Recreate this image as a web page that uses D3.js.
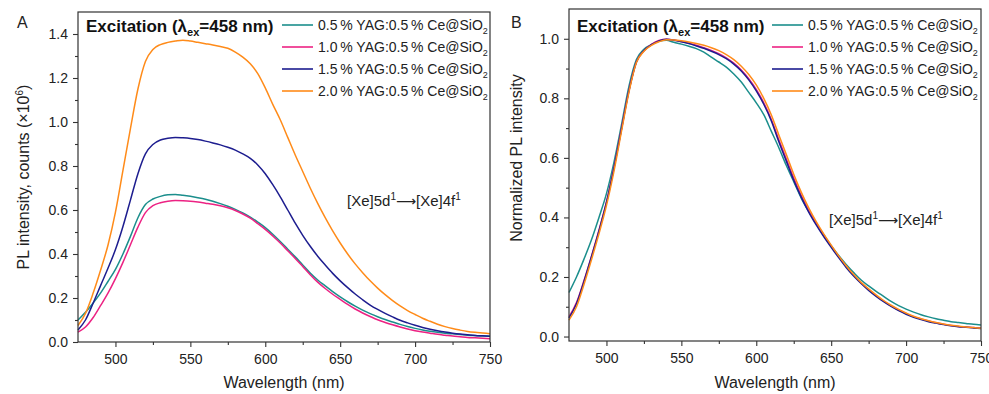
<!DOCTYPE html>
<html>
<head>
<meta charset="utf-8">
<script src="https://cdn.jsdelivr.net/npm/d3@7"></script>
<style>
  html, body { margin: 0; padding: 0; background: #fff; }
  svg { display: block; font-family: "Liberation Sans", Arial, sans-serif; }
</style>
</head>
<body>
<div id="chart"></div>
<script>
// wavelength grid (nm)
const wavelength = [475, 480, 485, 490, 495, 500, 505, 510, 515, 520, 525, 530, 535, 540, 545, 550,
  555, 560, 565, 570, 575, 580, 585, 590, 595, 600, 605, 610, 615, 620, 625, 630, 635, 640, 645, 650,
  655, 660, 665, 670, 675, 680, 685, 690, 695, 700, 705, 710, 715, 720, 725, 730, 735, 740, 745, 750];

const seriesLabels = ['0.5', '1.0', '1.5', '2.0'];
const seriesColors = ['#1b8e8c', '#ec2283', '#1d1d8f', '#ff8b19'];

// panel A: PL intensity, counts (x10^6)
const rawTeal = [0.10, 0.135, 0.176, 0.222, 0.275, 0.33, 0.40, 0.48, 0.565, 0.625, 0.65, 0.662, 0.669, 0.671, 0.667, 0.662,
  0.656, 0.649, 0.64, 0.629, 0.617, 0.603, 0.587, 0.568, 0.545, 0.52, 0.49, 0.457, 0.422, 0.387, 0.35, 0.314, 0.282, 0.255, 0.229, 0.205,
  0.183, 0.163, 0.145, 0.129, 0.115, 0.102, 0.091, 0.08, 0.07, 0.062, 0.055, 0.049, 0.044, 0.04, 0.037, 0.034, 0.031, 0.029, 0.027, 0.026];
const rawPink = [0.045, 0.068, 0.11, 0.165, 0.222, 0.288, 0.362, 0.442, 0.522, 0.588, 0.62, 0.633, 0.64, 0.643, 0.642, 0.64,
  0.636, 0.631, 0.626, 0.619, 0.61, 0.598, 0.582, 0.563, 0.538, 0.512, 0.482, 0.45, 0.415, 0.38, 0.343, 0.306, 0.272, 0.243, 0.217, 0.194,
  0.171, 0.15, 0.132, 0.116, 0.101, 0.089, 0.078, 0.068, 0.059, 0.051, 0.045, 0.04, 0.035, 0.031, 0.027, 0.024, 0.021, 0.019, 0.017, 0.015];
const rawNavy = [0.055, 0.10, 0.175, 0.255, 0.335, 0.42, 0.525, 0.645, 0.765, 0.855, 0.898, 0.918, 0.926, 0.93, 0.928, 0.925,
  0.92, 0.913, 0.905, 0.896, 0.885, 0.872, 0.855, 0.835, 0.805, 0.765, 0.715, 0.66, 0.60, 0.54, 0.485, 0.435, 0.39, 0.35, 0.312, 0.278,
  0.247, 0.218, 0.192, 0.168, 0.148, 0.13, 0.114, 0.099, 0.087, 0.076, 0.066, 0.058, 0.051, 0.045, 0.04, 0.036, 0.033, 0.03, 0.028, 0.026];
const rawOrange = [0.075, 0.13, 0.22, 0.325, 0.44, 0.59, 0.78, 0.97, 1.15, 1.275, 1.33, 1.352, 1.362, 1.368, 1.372, 1.368,
  1.362, 1.356, 1.35, 1.343, 1.335, 1.318, 1.295, 1.265, 1.22, 1.155, 1.08, 1.01, 0.93, 0.85, 0.775, 0.70, 0.63, 0.565, 0.505, 0.45,
  0.40, 0.355, 0.315, 0.278, 0.245, 0.215, 0.188, 0.164, 0.143, 0.125, 0.108, 0.094, 0.081, 0.07, 0.061, 0.054, 0.048, 0.044, 0.041, 0.038];

// panel B: normalized PL intensity
const normTeal = [0.148, 0.20, 0.26, 0.325, 0.40, 0.48, 0.585, 0.71, 0.84, 0.93, 0.965, 0.98, 0.992, 0.995, 0.988, 0.982,
  0.975, 0.967, 0.955, 0.938, 0.922, 0.905, 0.882, 0.855, 0.82, 0.785, 0.745, 0.69, 0.635, 0.575, 0.52, 0.465, 0.42, 0.38, 0.342, 0.305,
  0.272, 0.242, 0.215, 0.19, 0.17, 0.152, 0.135, 0.118, 0.104, 0.092, 0.082, 0.073, 0.066, 0.06, 0.055, 0.05, 0.047, 0.044, 0.041, 0.039];
const normPink = [0.066, 0.114, 0.188, 0.27, 0.357, 0.452, 0.567, 0.697, 0.826, 0.922, 0.96, 0.981, 0.994, 0.998, 0.996, 0.991,
  0.985, 0.978, 0.97, 0.961, 0.95, 0.936, 0.918, 0.895, 0.866, 0.83, 0.785, 0.73, 0.662, 0.597, 0.532, 0.474, 0.423, 0.379, 0.339, 0.303,
  0.268, 0.235, 0.206, 0.18, 0.157, 0.137, 0.119, 0.103, 0.089, 0.077, 0.067, 0.059, 0.052, 0.046, 0.041, 0.037, 0.034, 0.032, 0.03, 0.028];
const normNavy = [0.062, 0.11, 0.185, 0.268, 0.355, 0.45, 0.565, 0.695, 0.825, 0.922, 0.96, 0.98, 0.993, 0.998, 0.995, 0.99,
  0.984, 0.976, 0.968, 0.958, 0.947, 0.933, 0.915, 0.892, 0.862, 0.825, 0.78, 0.725, 0.655, 0.59, 0.525, 0.468, 0.418, 0.375, 0.336, 0.30,
  0.265, 0.232, 0.203, 0.178, 0.155, 0.135, 0.117, 0.101, 0.087, 0.075, 0.065, 0.057, 0.05, 0.045, 0.04, 0.036, 0.033, 0.031, 0.029, 0.027];
const normOrange = [0.055, 0.10, 0.175, 0.258, 0.345, 0.44, 0.555, 0.688, 0.82, 0.92, 0.958, 0.978, 0.99, 0.997, 0.996, 0.993,
  0.989, 0.984, 0.978, 0.97, 0.96, 0.947, 0.93, 0.908, 0.88, 0.845, 0.80, 0.745, 0.678, 0.612, 0.545, 0.485, 0.432, 0.386, 0.345, 0.307,
  0.271, 0.238, 0.208, 0.182, 0.16, 0.14, 0.121, 0.105, 0.091, 0.079, 0.068, 0.06, 0.053, 0.047, 0.042, 0.038, 0.035, 0.032, 0.03, 0.028];

const xMajor = [500, 550, 600, 650, 700, 750];
const xMinor = [525, 575, 625, 675, 725];
const yMajorA = [0, 0.2, 0.4, 0.6, 0.8, 1.0, 1.2, 1.4];
const yMinorA = [0.1, 0.3, 0.5, 0.7, 0.9, 1.1, 1.3];
const yMajorB = [0, 0.2, 0.4, 0.6, 0.8, 1.0];
const yMinorB = [0.1, 0.3, 0.5, 0.7, 0.9];

const width = 989, height = 394;
const ink = '#222';

const svg = d3.select('#chart')
  .append('svg')
  .attr('width', width)
  .attr('height', height);

function drawPanel(cfg) {
  const x = d3.scaleLinear().domain([475, 750]).range([cfg.left, cfg.right]);
  const y = d3.scaleLinear().domain(cfg.yDomain).range([cfg.bottom, cfg.top]);
  const g = svg.append('g');

  // curves
  const line = d3.line()
    .x((d, i) => x(wavelength[i]))
    .y(d => y(d))
    .curve(d3.curveMonotoneX);
  cfg.series.forEach((s, i) => {
    g.append('path')
      .datum(s)
      .attr('fill', 'none')
      .attr('stroke', seriesColors[i])
      .attr('stroke-width', 1.5)
      .attr('d', line);
  });

  // frame
  g.append('rect')
    .attr('x', cfg.left).attr('y', cfg.top)
    .attr('width', cfg.right - cfg.left).attr('height', cfg.bottom - cfg.top)
    .attr('fill', 'none').attr('stroke', '#333').attr('stroke-width', 1.2);

  // x axis
  g.append('g')
    .attr('transform', `translate(0,${cfg.bottom})`)
    .call(d3.axisBottom(x).tickValues(xMajor).tickSize(5).tickPadding(7).tickFormat(d3.format('d')));
  g.append('g')
    .attr('transform', `translate(0,${cfg.bottom})`)
    .call(d3.axisBottom(x).tickValues(xMinor).tickSize(3).tickFormat(''));

  // y axis
  g.append('g')
    .attr('transform', `translate(${cfg.left},0)`)
    .call(d3.axisLeft(y).tickValues(cfg.yMajor).tickSize(5).tickPadding(5).tickFormat(d3.format('.1f')));
  g.append('g')
    .attr('transform', `translate(${cfg.left},0)`)
    .call(d3.axisLeft(y).tickValues(cfg.yMinor).tickSize(3).tickFormat(''));

  g.selectAll('.domain').remove();
  g.selectAll('.tick line').attr('stroke', '#333').attr('stroke-width', 1.1);
  g.selectAll('.tick text')
    .attr('fill', ink)
    .style('font-size', '14px')
    .style('font-family', '"Liberation Sans", Arial, sans-serif');

  // axis titles
  g.append('text')
    .attr('x', (cfg.left + cfg.right) / 2).attr('y', 388)
    .attr('text-anchor', 'middle')
    .attr('fill', ink).style('font-size', '16px')
    .text('Wavelength (nm)');

  const yl = g.append('text')
    .attr('transform', `translate(${cfg.yLabelX},${cfg.yLabelY}) rotate(-90)`)
    .attr('text-anchor', 'middle')
    .attr('fill', ink).style('font-size', '16px');
  cfg.yLabel(yl);

  // panel letter
  g.append('text')
    .attr('x', cfg.letterX).attr('y', 28)
    .attr('fill', ink).style('font-size', '16px')
    .text(cfg.letter);

  // excitation title
  const t = g.append('text')
    .attr('x', cfg.left + 8).attr('y', 32)
    .attr('fill', '#111').style('font-size', '17px').style('font-weight', 'bold');
  t.append('tspan').text('Excitation (\u03bb');
  t.append('tspan').attr('dy', 4).style('font-size', '11px').text('ex');
  t.append('tspan').attr('dy', -4).text('=458 nm)');

  // legend
  seriesLabels.forEach((lab, i) => {
    const ly = 25 + i * 22;
    g.append('line')
      .attr('x1', cfg.legendX).attr('x2', cfg.legendX + 31)
      .attr('y1', ly).attr('y2', ly)
      .attr('stroke', seriesColors[i]).attr('stroke-width', 1.6);
    const lt = g.append('text')
      .attr('x', cfg.legendX + 36).attr('y', ly + 5)
      .attr('fill', ink).style('font-size', '14px');
    lt.append('tspan').text(`${lab}\u2009% YAG:0.5\u2009% Ce@SiO`);
    lt.append('tspan').attr('dy', 4).style('font-size', '9px').text('2');
  });

  // transition annotation
  const an = g.append('text')
    .attr('x', cfg.annX).attr('y', cfg.annY)
    .attr('fill', ink).style('font-size', '15px');
  an.append('tspan').text('[Xe]5d');
  an.append('tspan').attr('dy', -6).style('font-size', '10px').text('1');
  an.append('tspan').attr('dy', 6)
    .style('font-family', '"DejaVu Sans", sans-serif').style('font-size', '14px')
    .text('\u27f6');
  an.append('tspan').text('[Xe]4f');
  an.append('tspan').attr('dy', -6).style('font-size', '10px').text('1');
}

drawPanel({
  left: 78, right: 490, top: 12, bottom: 342,
  yDomain: [0, 1.5], yMajor: yMajorA, yMinor: yMinorA,
  series: [rawTeal, rawPink, rawNavy, rawOrange],
  letter: 'A', letterX: 17,
  legendX: 282, annX: 347, annY: 206,
  yLabelX: 29, yLabelY: 177,
  yLabel: sel => {
    sel.append('tspan').text('PL intensity, counts (\u00d710');
    sel.append('tspan').attr('dy', -6).style('font-size', '10px').text('6');
    sel.append('tspan').attr('dy', 6).text(')');
  }
});

drawPanel({
  left: 569, right: 981, top: 9, bottom: 341,
  yDomain: [-0.015, 1.1], yMajor: yMajorB, yMinor: yMinorB,
  series: [normTeal, normPink, normNavy, normOrange],
  letter: 'B', letterX: 511,
  legendX: 772, annX: 829, annY: 225,
  yLabelX: 522, yLabelY: 158,
  yLabel: sel => sel.text('Normalized PL intensity')
});
</script>
</body>
</html>
